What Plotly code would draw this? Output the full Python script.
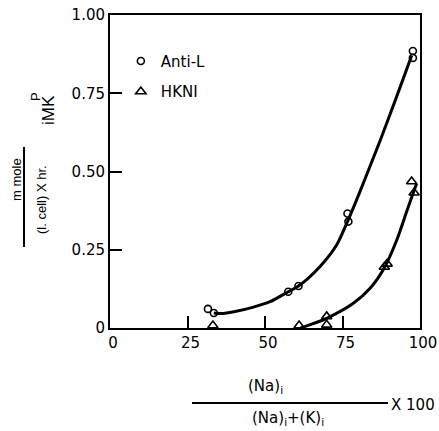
import plotly.graph_objects as go

# ---- data ----
anti_x = [31.6, 33.5, 57.5, 60.8, 76.6, 76.9, 97.7, 97.7]
anti_y = [0.061, 0.048, 0.116, 0.134, 0.366, 0.340, 0.885, 0.863]

hkni_x = [33.2, 33.2, 61.0, 59.7, 69.9, 69.9, 88.5, 89.4, 97.3, 98.1]
hkni_y = [0.008, -0.022, 0.008, -0.026, 0.037, 0.010, 0.195, 0.205, 0.468, 0.432]

anti_curve_x = [33.5, 36, 40, 46, 51.6, 57.5, 60.8, 67.7, 73.1, 76.6, 80.6, 84.0, 87.0, 92.5, 97.3]
anti_curve_y = [0.048, 0.046, 0.052, 0.066, 0.084, 0.116, 0.134, 0.196, 0.265, 0.34, 0.435, 0.52, 0.595, 0.74, 0.87]

hkni_curve_x = [61.5, 65.5, 69.9, 78.5, 83.9, 88.7, 92.5, 95.7, 98.9]
hkni_curve_y = [0.0, 0.014, 0.031, 0.079, 0.127, 0.196, 0.281, 0.372, 0.462]

x_tickvals = [0, 25, 50, 75, 100]
x_ticktext = ["0", "25", "50", "75", "100"]
y_tickvals = [0, 0.25, 0.5, 0.75, 1.0]
y_ticktext = ["0", "0.25", "0.50", "0.75", "1.00"]

FONT = "DejaVu Sans"
SANS = "Liberation Sans"

fig = go.Figure()

fig.add_trace(go.Scatter(x=anti_curve_x, y=anti_curve_y, mode="lines",
                         line=dict(color="black", width=3, shape="spline", smoothing=0.8),
                         showlegend=False, hoverinfo="skip"))
fig.add_trace(go.Scatter(x=hkni_curve_x, y=hkni_curve_y, mode="lines",
                         line=dict(color="black", width=3, shape="spline", smoothing=0.8),
                         showlegend=False, hoverinfo="skip"))

fig.add_trace(go.Scatter(x=anti_x, y=anti_y, mode="markers", name="Anti-L",
                         legendgroup="a",
                         marker=dict(symbol="circle-open", size=7, color="black",
                                     line=dict(width=1.6, color="black")),
                         cliponaxis=False))
fig.add_trace(go.Scatter(x=hkni_x, y=hkni_y, mode="markers", name="HKNI",
                         legendgroup="b",
                         marker=dict(symbol="triangle-up-open", size=9, color="black",
                                     line=dict(width=1.6, color="black")),
                         cliponaxis=False))

L, R, T, B = 110, 19, 15, 103
PW, PH = 439 - L - R, 431 - T - B


def px(x):
    return (x - L) / PW


def py(y):
    return (431 - B - y) / PH


ann = []
# y-axis title pieces
ann.append(dict(x=px(16), y=py(180), text="m mole", textangle=-90,
                font=dict(family=SANS, size=13, color="black")))
ann.append(dict(x=px(41), y=py(200), text="(l. cell) X hr.", textangle=-90,
                font=dict(family=SANS, size=13, color="black")))
ann.append(dict(x=px(49), y=py(110), text="iMK", textangle=-90,
                font=dict(family=SANS, size=17, color="black")))
ann.append(dict(x=px(36), y=py(97), text="P", textangle=-90,
                font=dict(family=SANS, size=13, color="black")))
# x-axis title pieces
ann.append(dict(x=px(265), y=py(387), text="(Na)<sub>i</sub>",
                font=dict(family=FONT, size=15, color="black")))
ann.append(dict(x=px(288), y=py(419), text="(Na)<sub>i</sub>+(K)<sub>i</sub>",
                font=dict(family=FONT, size=15, color="black")))
ann.append(dict(x=px(413), y=py(405), text="X 100",
                font=dict(family=FONT, size=15, color="black")))
for a in ann:
    a.update(xref="paper", yref="paper", showarrow=False,
             xanchor="center", yanchor="middle")

shapes = [
    dict(type="line", xref="paper", yref="paper", x0=px(24), x1=px(24),
         y0=py(147), y1=py(247), line=dict(color="black", width=2)),
    dict(type="line", xref="paper", yref="paper", x0=px(192), x1=px(388),
         y0=py(403), y1=py(403), line=dict(color="black", width=2)),
]

fig.update_layout(
    width=439, height=431,
    margin=dict(l=L, r=R, t=T, b=B, autoexpand=False),
    paper_bgcolor="white", plot_bgcolor="white",
    font=dict(family=FONT, size=15, color="black"),
    annotations=ann, shapes=shapes,
    showlegend=True,
    legend=dict(x=0.035, y=0.905, xanchor="left", yanchor="top",
                bgcolor="rgba(0,0,0,0)", font=dict(family=FONT, size=15),
                traceorder="grouped", tracegroupgap=8, itemsizing="trace"),
    xaxis=dict(range=[0, 100], tickvals=x_tickvals, ticktext=x_ticktext,
               ticks="inside", ticklen=12, tickwidth=2, tickcolor="black",
               showline=True, linewidth=2, linecolor="black", mirror=True,
               showgrid=False, zeroline=False, automargin=False,
               ticklabelshift=3, ticklabeloverflow="allow",
               tickfont=dict(family=FONT, size=15)),
    yaxis=dict(range=[0, 1], tickvals=y_tickvals, ticktext=y_ticktext,
               ticks="inside", ticklen=12, tickwidth=2, tickcolor="black",
               showline=True, linewidth=2, linecolor="black", mirror=True,
               showgrid=False, zeroline=False, automargin=False,
               tickfont=dict(family=FONT, size=15)),
)

fig.write_html("out.html")
